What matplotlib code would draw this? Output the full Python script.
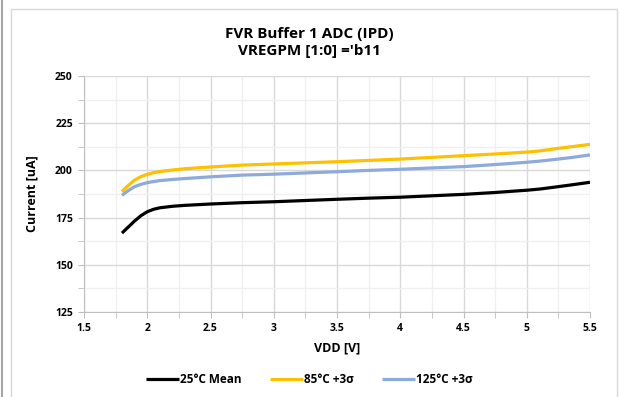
import numpy as np
import matplotlib.pyplot as plt
from matplotlib.patches import Rectangle
from matplotlib.lines import Line2D

plt.rcParams['font.family'] = ['Open Sans', 'DejaVu Sans']
plt.rcParams['font.weight'] = 'bold'

# VDD sweep points
vdd = [1.8, 1.85, 1.9, 1.95, 2.0, 2.05, 2.1, 2.2, 2.3, 2.5, 2.75, 3.0, 3.5, 3.75,
       4.0, 4.5, 4.75, 5.0, 5.1, 5.25, 5.35, 5.5]

# currents [uA]
mean_25 = [166.8, 170.0, 173.2, 176.0, 178.1, 179.4, 180.2, 181.0, 181.5, 182.2, 182.9, 183.4, 184.7, 185.3,
           185.8, 187.3, 188.3, 189.5, 190.1, 191.4, 192.3, 193.7]
hi_85 = [188.7, 192.0, 194.9, 196.7, 197.9, 198.8, 199.4, 200.2, 200.9, 201.8, 202.8, 203.4, 204.6, 205.3,
         206.0, 207.8, 208.7, 209.7, 210.3, 211.7, 212.5, 213.8]
hi_125 = [186.8, 189.3, 191.4, 192.6, 193.5, 194.1, 194.6, 195.2, 195.7, 196.6, 197.5, 198.0, 199.3, 200.0,
          200.6, 202.0, 203.1, 204.3, 204.9, 206.0, 206.8, 208.2]

series = [("25°C Mean", mean_25, "#000000"),
          ("85°C +3σ", hi_85, "#FFC000"),
          ("125°C +3σ", hi_125, "#8EA9DB")]

fig = plt.figure(figsize=(6.19, 3.97), dpi=100)
ax = fig.add_axes([84/619, 85/397, 506/619, 236/397])

# outer chart frame like the spreadsheet
fig.patches.append(Rectangle((11/619, -0.01), 606/619, 1 - 9/397 + 0.01, transform=fig.transFigure,
                             fill=False, edgecolor="#d9d9d9", linewidth=1))
fig.add_artist(Line2D([2/619, 2/619], [0, 1], transform=fig.transFigure, color="#a6a6a6", linewidth=1.5))

for name, vals, col in series:
    ax.plot(vdd, vals, color=col, linewidth=2.3, label=name, solid_capstyle="butt", solid_joinstyle="round")

ax.set_xlim(1.5, 5.5)
ax.set_ylim(125, 250)
ax.set_xticks(np.arange(1.5, 5.51, 0.5))
ax.set_xticklabels(["1.5", "2", "2.5", "3", "3.5", "4", "4.5", "5", "5.5"])
ax.set_xticks(np.arange(1.75, 5.5, 0.5), minor=True)
ax.set_yticks(np.arange(125, 251, 25))
ax.set_yticks(np.arange(137.5, 250, 25), minor=True)

ax.grid(which="major", color="#d9d9d9", linewidth=1)
ax.grid(which="minor", color="#f0f0f0", linewidth=1)
ax.set_axisbelow(True)
for s in ["top", "right"]:
    ax.spines[s].set_visible(False)
for s in ["left", "bottom"]:
    ax.spines[s].set_color("#bfbfbf")
ax.tick_params(which="both", color="#bfbfbf", length=4, labelsize=7.5, pad=4)
for lab in ax.get_xticklabels() + ax.get_yticklabels():
    lab.set_fontweight("bold")

ax.set_xlabel("VDD [V]", fontsize=9, fontweight="bold", labelpad=5)
ax.set_ylabel("Current [uA]", fontsize=9, fontweight="bold", labelpad=12)

fig.text(0.5, 0.893, "FVR Buffer 1 ADC (IPD)\nVREGPM [1:0] ='b11", ha="center", va="center",
         fontsize=11, fontweight="bold", linespacing=1.25)

fig.legend(loc="center", bbox_to_anchor=(0.5, 0.045), ncol=3, frameon=False,
           prop={"size": 8.5, "weight": "bold"},
           handlelength=2.8, handletextpad=0.1, columnspacing=2.4)

fig.savefig("out.png", dpi=100)
